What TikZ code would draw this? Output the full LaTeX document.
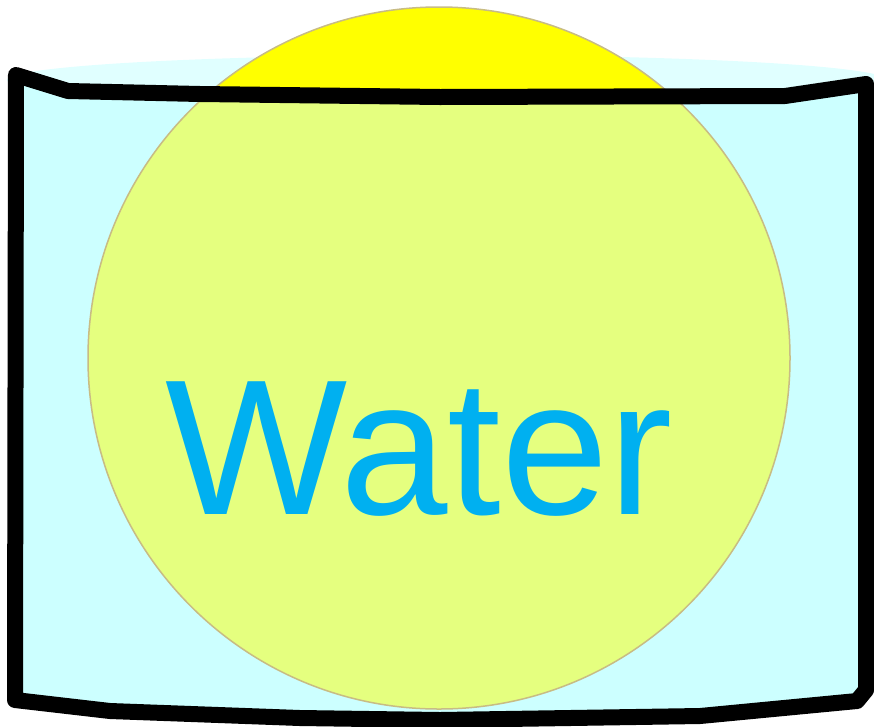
\documentclass[tikz,border=0pt]{standalone}
\usepackage{fontspec}
\setmainfont{Liberation Sans}
\definecolor{surface}{HTML}{E0FFFF}
\definecolor{waterfill}{HTML}{CCFFFF}
\definecolor{ballfill}{HTML}{FFFF00}
\definecolor{balledge}{HTML}{C8BC84}
\definecolor{textblue}{HTML}{00B0F0}
\tikzset{
  outline/.style={draw=black, line width=16pt, line join=round, line cap=round},
  ballstyle/.style={fill=ballfill},
  labeltext/.style={text=textblue, inner sep=0pt, font=\fontsize{193}{200}\selectfont}
}
\begin{document}
\begin{tikzpicture}[x=1pt,y=-1pt]
\useasboundingbox (0,0) rectangle (874,726);
% water surface
\fill[surface] (447,80) ellipse [x radius=440pt, y radius=25pt];
% ball, opaque base
\fill[ballstyle] (439,358) circle [radius=351pt];
% container body
\def\bodypath{(16,75) -- (68,91) -- (200,94) -- (440,97) -- (785,96) -- (866,84) -- (866,690) -- (857,701) -- (700,716) -- (440,720) -- (300,718) -- (110,711) -- (15,700) -- cycle}
\fill[waterfill] \bodypath;
% ball seen through the water
\fill[ballstyle, fill opacity=0.5] (439,358) circle [radius=351pt];
\draw[balledge, line width=1.5pt] (439,358) circle [radius=351pt];
% container outline
\draw[outline] \bodypath;
% label
\node[labeltext, anchor=base west] (label) at (165,514) {Water};
\end{tikzpicture}
\end{document}
